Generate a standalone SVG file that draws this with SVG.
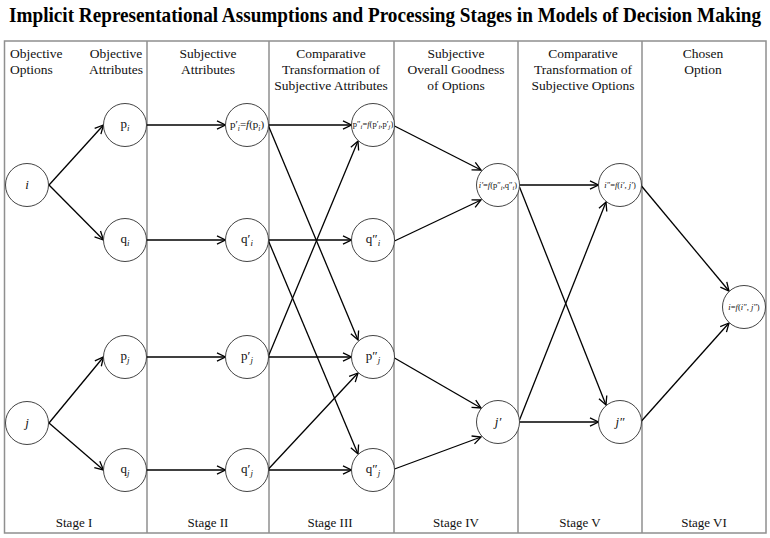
<svg xmlns="http://www.w3.org/2000/svg" width="770" height="538" viewBox="0 0 770 538">
<defs>
<marker id="arr" markerWidth="12" markerHeight="12" refX="10" refY="6" orient="auto" markerUnits="userSpaceOnUse">
<path d="M1.5,1.8 L10,6 L1.5,10.2" fill="none" stroke="#000" stroke-width="1.3"/>
</marker>
<style>
.t{font-family:"Liberation Serif","Times New Roman",serif;font-weight:bold;font-size:19px;fill:#000}
.h{font-family:"Liberation Serif","Times New Roman",serif;font-size:13.5px;fill:#111;text-anchor:middle}
.st{font-family:"Liberation Serif","Times New Roman",serif;font-size:13px;fill:#111;text-anchor:middle}
.grid{stroke:#8f8f8f;stroke-width:1.5;fill:none}
.e{stroke:#000;stroke-width:1.3;fill:none;marker-end:url(#arr)}
.c{fill:#fff;stroke:#444;stroke-width:1}
.n{font-family:"Liberation Serif","Times New Roman",serif;font-size:13px;fill:#111;text-anchor:middle}
.sm{font-family:"Liberation Serif","Times New Roman",serif;font-size:11px;fill:#111;text-anchor:middle}
.xs{font-family:"Liberation Serif","Times New Roman",serif;font-size:8.5px;fill:#111;text-anchor:middle}
.it{font-style:italic}
.s{font-size:9px;font-style:italic}
.s2{font-size:7.5px;font-style:italic}
.xss{font-size:6.5px;font-style:italic}
</style>
</defs>

<g transform="translate(385,22) scale(1,1.12)"><text class="t" x="0" y="0" text-anchor="middle" textLength="752" lengthAdjust="spacingAndGlyphs">Implicit Representational Assumptions and Processing Stages in Models of Decision Making</text></g>

<g id="frame">
<rect class="grid" x="4.5" y="41" width="761.5" height="492"/>
<line class="grid" x1="147" y1="41" x2="147" y2="533"/>
<line class="grid" x1="269" y1="41" x2="269" y2="533"/>
<line class="grid" x1="394" y1="41" x2="394" y2="533"/>
<line class="grid" x1="518" y1="41" x2="518" y2="533"/>
<line class="grid" x1="642" y1="41" x2="642" y2="533"/>
</g>

<g id="headers">
<text class="h" x="10" y="58" style="text-anchor:start">Objective</text>
<text class="h" x="10" y="74" style="text-anchor:start">Options</text>
<text class="h" x="116" y="58">Objective</text>
<text class="h" x="116" y="74">Attributes</text>
<text class="h" x="208" y="58">Subjective</text>
<text class="h" x="208" y="74">Attributes</text>
<text class="h" x="331" y="58">Comparative</text>
<text class="h" x="331" y="74">Transformation of</text>
<text class="h" x="331" y="90">Subjective Attributes</text>
<text class="h" x="456" y="58">Subjective</text>
<text class="h" x="456" y="74">Overall Goodness</text>
<text class="h" x="456" y="90">of  Options</text>
<text class="h" x="583" y="58">Comparative</text>
<text class="h" x="583" y="74">Transformation of</text>
<text class="h" x="583" y="90">Subjective Options</text>
<text class="h" x="703" y="58">Chosen</text>
<text class="h" x="703" y="74">Option</text>
</g>

<g id="stages">
<text class="st" x="74" y="527">Stage I</text>
<text class="st" x="208" y="527">Stage II</text>
<text class="st" x="330" y="527">Stage III</text>
<text class="st" x="456" y="527">Stage IV</text>
<text class="st" x="580" y="527">Stage V</text>
<text class="st" x="704" y="527">Stage VI</text>
</g>

<g id="connectors">
<line class="e" x1="49" y1="185" x2="103.5" y2="125"/>
<line class="e" x1="49" y1="185" x2="103.5" y2="240"/>
<line class="e" x1="49" y1="423" x2="103.5" y2="357"/>
<line class="e" x1="49" y1="423" x2="103.5" y2="470"/>

<line class="e" x1="146.5" y1="125" x2="225.5" y2="125"/>
<line class="e" x1="146.5" y1="240" x2="225.5" y2="240"/>
<line class="e" x1="146.5" y1="357" x2="225.5" y2="357"/>
<line class="e" x1="146.5" y1="470" x2="225.5" y2="470"/>

<line class="e" x1="268.5" y1="125" x2="351.5" y2="125"/>
<line class="e" x1="268.5" y1="126" x2="358" y2="340"/>
<line class="e" x1="268.5" y1="240" x2="351.5" y2="240"/>
<line class="e" x1="268.5" y1="241" x2="358" y2="454"/>
<line class="e" x1="268.5" y1="356" x2="358" y2="141"/>
<line class="e" x1="268.5" y1="357" x2="351.5" y2="357"/>
<line class="e" x1="268.5" y1="469" x2="358" y2="373"/>
<line class="e" x1="268.5" y1="470" x2="351.5" y2="470"/>

<line class="e" x1="394.5" y1="126" x2="481" y2="170"/>
<line class="e" x1="394.5" y1="241" x2="481" y2="200"/>
<line class="e" x1="394.5" y1="358" x2="481" y2="408"/>
<line class="e" x1="394.5" y1="469" x2="481" y2="437"/>

<line class="e" x1="519.5" y1="185" x2="598.5" y2="185"/>
<line class="e" x1="519.5" y1="187" x2="606" y2="405"/>
<line class="e" x1="519.5" y1="420" x2="606" y2="202"/>
<line class="e" x1="519.5" y1="422" x2="598.5" y2="422"/>

<line class="e" x1="641.5" y1="186" x2="729" y2="291"/>
<line class="e" x1="641.5" y1="421" x2="729" y2="323"/>
</g>

<g id="node-i"><circle class="c" cx="27" cy="185" r="21.5"/><text class="n it" x="27" y="189">i</text></g>
<g id="node-j"><circle class="c" cx="27" cy="423" r="21.5"/><text class="n it" x="27" y="427">j</text></g>

<g id="node-pi"><circle class="c" cx="125" cy="125" r="21.5"/><text class="n" x="125" y="128">p<tspan class="s" dy="3">i</tspan></text></g>
<g id="node-qi"><circle class="c" cx="125" cy="240" r="21.5"/><text class="n" x="125" y="243">q<tspan class="s" dy="3">i</tspan></text></g>
<g id="node-pj"><circle class="c" cx="125" cy="357" r="21.5"/><text class="n" x="125" y="360">p<tspan class="s" dy="3">j</tspan></text></g>
<g id="node-qj"><circle class="c" cx="125" cy="470" r="21.5"/><text class="n" x="125" y="473">q<tspan class="s" dy="3">j</tspan></text></g>

<g id="node-p1i"><circle class="c" cx="247" cy="125" r="21.5"/><text class="sm" x="247" y="128">p′<tspan class="s2" dy="2.5">i</tspan><tspan dy="-2.5">=</tspan><tspan class="it">f</tspan>(p<tspan class="s2" dy="2.5">i</tspan><tspan dy="-2.5">)</tspan></text></g>
<g id="node-q1i"><circle class="c" cx="247" cy="240" r="21.5"/><text class="n" x="247" y="243">q′<tspan class="s" dy="3">i</tspan></text></g>
<g id="node-p1j"><circle class="c" cx="247" cy="357" r="21.5"/><text class="n" x="247" y="360">p′<tspan class="s" dy="3">j</tspan></text></g>
<g id="node-q1j"><circle class="c" cx="247" cy="470" r="21.5"/><text class="n" x="247" y="473">q′<tspan class="s" dy="3">j</tspan></text></g>

<g id="node-p2i"><circle class="c" cx="373" cy="125" r="21.5"/><text class="xs" x="373" y="127">p″<tspan class="xss" dy="2">i</tspan><tspan dy="-2">=</tspan><tspan class="it">f</tspan>(p′<tspan class="xss" dy="2">i</tspan><tspan dy="-2">,p′</tspan><tspan class="xss" dy="2">j</tspan><tspan dy="-2">)</tspan></text></g>
<g id="node-q2i"><circle class="c" cx="373" cy="240" r="21.5"/><text class="n" x="373" y="243">q″<tspan class="s" dy="3">i</tspan></text></g>
<g id="node-p2j"><circle class="c" cx="373" cy="357" r="21.5"/><text class="n" x="373" y="360">p″<tspan class="s" dy="3">j</tspan></text></g>
<g id="node-q2j"><circle class="c" cx="373" cy="470" r="21.5"/><text class="n" x="373" y="473">q″<tspan class="s" dy="3">j</tspan></text></g>

<g id="node-i1"><circle class="c" cx="498" cy="185" r="21.5"/><text class="xs" x="498" y="188"><tspan class="it">i′</tspan>=<tspan class="it">f</tspan>(p″<tspan class="xss" dy="2">i</tspan><tspan dy="-2">,q″</tspan><tspan class="xss" dy="2">i</tspan><tspan dy="-2">)</tspan></text></g>
<g id="node-j1"><circle class="c" cx="498" cy="422" r="21.5"/><text class="n it" x="498" y="426">j′</text></g>

<g id="node-i2"><circle class="c" cx="620" cy="185" r="21.5"/><text class="xs" x="620" y="188"><tspan class="it">i″</tspan>=<tspan class="it">f</tspan>(<tspan class="it">i′</tspan>, <tspan class="it">j′</tspan>)</text></g>
<g id="node-j2"><circle class="c" cx="620" cy="422" r="21.5"/><text class="n it" x="620" y="426">j″</text></g>

<g id="node-final"><circle class="c" cx="744" cy="307" r="21.5"/><text class="xs" x="744" y="310"><tspan class="it">i</tspan>=<tspan class="it">f</tspan>(<tspan class="it">i″</tspan>, <tspan class="it">j″</tspan>)</text></g>
</svg>
